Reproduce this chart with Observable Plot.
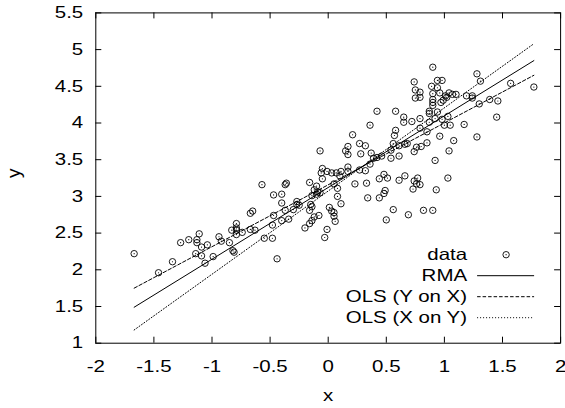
<!DOCTYPE html>
<html><head><meta charset="utf-8">
<script src="https://cdn.jsdelivr.net/npm/d3@7"></script>
<script src="https://cdn.jsdelivr.net/npm/@observablehq/plot@0.6"></script>
<style>
html,body{margin:0;padding:0;background:#fff;}
#chart svg{display:block;}
</style>
</head><body><div id="chart"></div>
<script>
// ---- data ----
const dataX = [
  -1.67,-1.46,-1.34,-1.27,-1.20,-1.13,-1.13,-1.11,-1.09,-1.04,-1.14,-1.09,-0.99,-1.06,-0.94,-0.92,-0.85,-0.82,-0.81,-0.83,-0.79,-0.79,-0.79,-0.79,-0.74,-0.67,-0.63,-0.65,-0.67,-0.55,-0.48,-0.48,-0.44,
  -0.57,-0.47,-0.47,-0.40,-0.40,-0.37,-0.36,-0.40,-0.34,-0.37,-0.30,-0.27,-0.27,-0.25,-0.20,-0.16,-0.14,-0.12,-0.08,-0.15,-0.14,-0.16,-0.16,-0.10,-0.12,-0.09,-0.10,-0.14,-0.07,-0.01,-0.03,
  -0.07,-0.05,-0.06,-0.05,-0.01,0.03,0.07,0.11,0.10,0.05,0.08,0.08,0.11,0.01,0.03,0.05,0.05,0.06,
  0.17,0.15,0.17,0.17,0.17,0.21,0.23,0.27,0.32,0.28,0.27,0.32,0.36,0.33,0.34,0.36,0.37,0.39,0.42,0.46,0.42,0.44,0.44,0.48,0.51,0.49,0.48,0.50,0.54,0.54,0.56,0.58,0.57,0.58,0.56,0.61,0.61,0.61,0.65,0.65,0.66,0.68,0.66,0.69,0.72,
  0.74,0.75,0.79,0.75,0.79,0.79,0.79,0.74,0.76,0.80,0.85,0.85,0.74,0.77,0.76,0.79,0.73,0.82,0.90,0.87,0.87,0.87,0.90,0.89,0.94,0.98,0.94,0.90,0.96,0.90,0.90,0.90,0.94,0.92,0.98,1.03,0.96,0.92,0.93,0.97,0.99,1.01,1.02,1.04,1.07,1.10,1.00,1.05,1.04,1.03,1.08,1.17,1.19,1.24,1.24,1.28,1.31,1.30,1.28,1.39,1.46,1.45,1.57,1.77
];
const dataY = [
  2.22,1.96,2.11,2.37,2.41,2.41,2.37,2.49,2.31,2.34,2.22,2.19,2.18,2.09,2.45,2.39,2.37,2.26,2.24,2.54,2.63,2.57,2.54,2.48,2.51,2.55,2.54,2.80,2.77,2.43,2.43,2.61,2.15,
  3.16,2.74,3.02,3.03,2.91,3.16,3.18,2.67,2.69,2.81,2.82,2.93,2.89,2.88,2.57,2.63,2.67,2.72,2.74,2.89,2.86,2.81,3.19,3.14,3.09,3.06,3.03,3.01,3.05,2.55,2.44,
  3.62,3.38,3.32,3.24,3.34,3.32,3.32,3.34,3.28,3.17,3.11,3.00,2.90,2.85,2.80,2.78,2.73,2.66,
  3.68,3.62,3.57,3.40,3.34,3.84,3.17,3.72,3.69,3.58,3.36,3.35,3.44,3.18,2.98,3.97,3.59,3.52,3.53,3.55,4.16,2.98,3.24,3.30,3.25,3.08,3.04,2.68,3.63,3.52,2.82,4.16,3.83,3.90,3.72,3.69,3.55,3.22,4.08,4.01,3.71,3.72,3.28,2.75,4.02,
  4.56,4.45,4.42,4.34,4.35,4.06,3.93,3.61,3.67,3.68,3.73,3.88,3.21,3.25,3.17,3.16,3.10,2.81,2.81,4.16,4.13,4.01,4.76,4.50,4.58,4.58,4.48,4.40,4.41,4.32,4.28,4.24,4.15,4.06,4.05,4.09,3.82,3.49,3.09,4.28,4.31,4.37,4.35,4.41,4.39,4.39,3.97,3.97,3.62,3.25,3.76,3.98,4.37,4.37,4.34,4.67,4.57,4.26,3.81,4.32,4.30,4.08,4.54,4.49
];
// fitted lines: y at the left and right end of the data range
const fitNames = ["RMA", "OLS (Y on X)", "OLS (X on Y)"];
const fitYStart = [1.49, 1.75, 1.18];
const fitYEnd = [4.85, 4.65, 5.08];
const legendLabels = ["data", "RMA", "OLS (Y on X)", "OLS (X on Y)"];
const xTicks = [-2, -1.5, -1, -0.5, 0, 0.5, 1, 1.5, 2];
const yTicks = [1, 1.5, 2, 2.5, 3, 3.5, 4, 4.5, 5, 5.5];
const xLabel = "x", yLabel = "y";

// ---- layout / style ----
const W = 565, H = 408;
const mL = 95.3, mR = 4.9, mT = 12.4, mB = 65.3;
const frameW = W - mL - mR, frameH = H - mT - mB;
const FONT = "'Liberation Sans', Arial, Helvetica, sans-serif";
const FS = 16.5;
const STRETCH = 1.24;
const dashes = [null, "3.5,2", "1,2"];

const pts = dataX.map((x, i) => ({x, y: dataY[i]}));
const ext = d3.extent(dataX);
const fitLines = fitNames.map((name, i) => [
  {name, x: ext[0], y: fitYStart[i]},
  {name, x: ext[1], y: fitYEnd[i]}
]);

const svg = Plot.plot({
  width: W, height: H,
  marginLeft: mL, marginRight: mR, marginTop: mT, marginBottom: mB,
  x: {domain: [-2, 2], axis: null},
  y: {domain: [1, 5.5], axis: null},
  style: {fontFamily: FONT, fontSize: FS + "px", color: "#000", background: "#fff", overflow: "hidden"},
  marks: [
    // inward tick marks on all four sides
    Plot.ruleX(xTicks, {x: d => d, insetTop: frameH - 6, stroke: "#000", strokeWidth: 1}),
    Plot.ruleX(xTicks, {x: d => d, insetBottom: frameH - 6, stroke: "#000", strokeWidth: 1}),
    Plot.ruleY(yTicks, {y: d => d, insetRight: frameW - 6, stroke: "#000", strokeWidth: 1}),
    Plot.ruleY(yTicks, {y: d => d, insetLeft: frameW - 6, stroke: "#000", strokeWidth: 1}),
    Plot.axisX({ticks: xTicks, tickSize: 0, tickPadding: 17, tickFormat: d => String(d), label: null, fontSize: FS}),
    Plot.axisY({ticks: yTicks, tickSize: 0, tickPadding: 12.6, tickFormat: d => String(d), label: null, fontSize: FS}),
    ...fitLines.map((line, i) => Plot.line(line, {x: "x", y: "y", stroke: "#000", strokeWidth: 1, strokeDasharray: dashes[i]})),
    Plot.dot(pts, {x: "x", y: "y", r: 3.2, stroke: "#000", strokeWidth: 0.9, fill: "none"}),
    Plot.dot(pts, {x: "x", y: "y", r: 0.6, fill: "#000", stroke: null}),
    Plot.frame({stroke: "#000", strokeWidth: 1}),
    Plot.text([xLabel], {text: d => d, frameAnchor: "bottom", dy: 58, fontSize: FS}),
    Plot.text([yLabel], {text: d => d, frameAnchor: "left", dx: -82, rotate: -90, fontSize: 19})
  ]
});
document.getElementById("chart").append(svg);

// ---- key (inside the frame, bottom right) ----
const right = W - mR, bottom = H - mB;
const key = d3.select(svg).append("g").attr("font-family", FONT).attr("font-size", FS).attr("fill", "#000");
legendLabels.forEach((lab, i) => {
  const yy = bottom - 88 + i * 21;
  key.append("text").attr("x", right - 93).attr("y", yy).attr("dy", "0.35em")
    .attr("text-anchor", "end").text(lab);
  if (i === 0) {
    key.append("circle").attr("cx", right - 54).attr("cy", yy).attr("r", 3.2)
      .attr("fill", "none").attr("stroke", "#000").attr("stroke-width", 0.9);
    key.append("circle").attr("cx", right - 54).attr("cy", yy).attr("r", 0.6).attr("fill", "#000");
  } else {
    const ln = key.append("line").attr("x1", right - 83).attr("x2", right - 26)
      .attr("y1", yy).attr("y2", yy).attr("stroke", "#000").attr("stroke-width", 1);
    if (dashes[i - 1]) ln.attr("stroke-dasharray", dashes[i - 1]);
  }
});

// the reference's lettering is horizontally wider than the font: stretch it
svg.querySelectorAll("text").forEach(t => {
  const tr = t.getAttribute("transform") || "";
  const parentTr = (t.parentNode && t.parentNode.getAttribute && t.parentNode.getAttribute("transform")) || "";
  if (tr.includes("rotate") || parentTr.includes("rotate")) return;
  if (t.querySelector("tspan")) return;
  const len = t.getComputedTextLength();
  if (len > 0) {
    t.setAttribute("textLength", (len * STRETCH).toFixed(2));
    t.setAttribute("lengthAdjust", "spacingAndGlyphs");
  }
});
</script>
</body></html>
